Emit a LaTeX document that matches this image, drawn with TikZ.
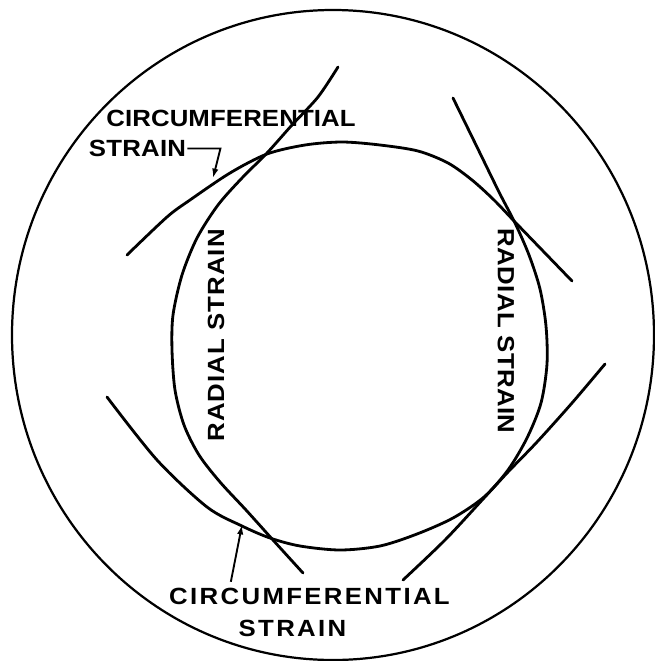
\documentclass[tikz,border=0pt]{standalone}
\usepackage{fontspec}
\newfontfamily\letterfont{Liberation Sans}[FakeStretch=1.1]
\usetikzlibrary{arrows.meta}

\tikzstyle{rim} = [line width=1.9pt]
\tikzstyle{gauge} = [line width=2.4pt, line cap=round, line join=round]
\tikzstyle{lettering} = [inner sep=1pt, font=\letterfont\bfseries\fontsize{20}{24}\selectfont]
\tikzstyle{leader} = [line width=1.6pt, -{Latex[length=8pt,width=5.5pt]}]

\begin{document}
\begin{tikzpicture}[x=0.03cm, y=-0.03cm]
\useasboundingbox (0,0) rectangle (655,661);
% outer edge of the disc
\draw[rim] (333,335) ellipse [x radius=321, y radius=325];
% left side of the hole, radial gauge
\draw[gauge] plot[smooth] coordinates {(338,67) (318,97) (292,125) (267,153) (242,178) (218,205)
    (197,238) (182,275) (173,315) (172,350) (175,390) (184,425) (199,455) (220,482) (246,510)
    (273,540) (303,573)};
% top of the hole, circumferential gauge
\draw[gauge] plot[smooth] coordinates {(127,255) (167,217) (190,200) (230,173) (267,154) (305,145)
    (342,142) (380,145) (418,151) (448,163) (472,180) (494,200) (515,222) (543,251) (572,281)};
% right side and bottom of the hole
\draw[gauge] plot[smooth] coordinates {(453,98) (477,147) (499,192) (515,223) (529,255) (540,289)
    (546,326) (547,364) (541,403) (527,438) (508,470) (484,497) (453,518) (417,534) (380,546)
    (340,550) (300,546) (270,538) (242,526) (207,507) (157,460) (107,397)};
% lower right circumferential gauge
\draw[gauge] plot[smooth] coordinates {(605,364) (572,403) (537,442) (508,472) (484,498) (445,540) (403,580)};

% labels
\node[lettering] (upcirc) at (231,118.5) {\addfontfeatures{LetterSpace=0.5}CIRCUMFERENTIAL};
\node[lettering] (upstrain) at (137.5,148.5) {\addfontfeatures{LetterSpace=1}STRAIN};
\node[lettering, rotate=90] (leftrad) at (216,335.5) {\addfontfeatures{LetterSpace=4.6}RADIAL STRAIN};
\node[lettering, rotate=-90] (rightrad) at (506,331) {\addfontfeatures{LetterSpace=1.5}RADIAL STRAIN};
\node[lettering] (lowcirc) at (309.5,596.5) {\addfontfeatures{LetterSpace=10}CIRCUMFERENTIAL};
\node[lettering] (lowstrain) at (292.5,628) {\addfontfeatures{LetterSpace=10}STRAIN};

% leaders
\coordinate (ultip) at (213,178);
\draw[leader] (upstrain.east) -- ++(33,0) -- (ultip);
\coordinate (lltip) at (242,525);
\draw[leader] ([xshift=1.89cm, yshift=0.15cm]lowcirc.north west) -- (lltip);
\end{tikzpicture}
\end{document}
